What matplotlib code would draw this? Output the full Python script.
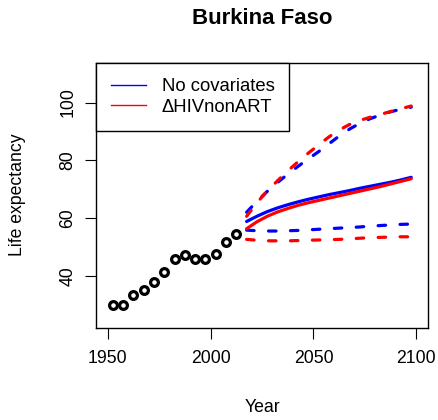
import matplotlib
matplotlib.use("Agg")
import matplotlib.pyplot as plt
from matplotlib.lines import Line2D

plt.rcParams['font.family'] = ['Liberation Sans', 'DejaVu Sans']
plt.rcParams['lines.scale_dashes'] = False

title = "Burkina Faso"
xlabel = "Year"
ylabel = "Life expectancy"
legend_labels = ["No covariates", "\u0394HIVnonART"]

obs_years = [1952.5, 1957.5, 1962.5, 1967.5, 1972.5, 1977.5, 1982.5, 1987.5,
             1992.5, 1997.5, 2002.5, 2007.5, 2012.5]
obs_e0 = [30.0, 30.0, 33.2, 35.0, 37.8, 41.3, 45.9, 47.1, 45.9, 45.9, 47.4, 51.7, 54.4]

proj_years = [2017.5, 2022.5, 2027.5, 2032.5, 2037.5, 2042.5, 2047.5, 2052.5, 2057.5,
              2062.5, 2067.5, 2072.5, 2077.5, 2082.5, 2087.5, 2092.5, 2097.5]

nocov_median = [58.8, 60.6, 62.2, 63.5, 64.6, 65.6, 66.5, 67.3, 68.1, 68.8, 69.5,
                70.3, 71.0, 71.7, 72.4, 73.2, 74.1]
nocov_upper = [62.0, 65.8, 69.2, 72.3, 75.2, 77.9, 80.5, 83.0, 85.7, 88.4, 90.8,
               92.8, 94.4, 95.7, 96.8, 97.7, 98.4]
nocov_lower = [55.8, 55.6, 55.5, 55.5, 55.6, 55.7, 55.9, 56.1, 56.3, 56.5, 56.7,
               56.9, 57.2, 57.4, 57.6, 57.8, 57.9]

hiv_median = [56.3, 58.7, 60.6, 62.1, 63.3, 64.4, 65.3, 66.1, 66.9, 67.7, 68.5,
              69.3, 70.1, 70.9, 71.8, 72.7, 73.6]
hiv_upper = [60.6, 65.3, 69.3, 72.9, 76.3, 79.5, 82.5, 85.3, 88.1, 90.5, 92.4,
             93.8, 94.9, 95.9, 96.9, 97.9, 98.8]
hiv_lower = [52.6, 52.3, 52.1, 52.1, 52.1, 52.2, 52.3, 52.4, 52.5, 52.6, 52.8,
             53.0, 53.2, 53.3, 53.4, 53.5, 53.5]

xticks = [1950, 2000, 2050, 2100]
yticks = [40, 60, 80, 100]

W, H = 439, 420
fig = plt.figure(figsize=(W / 100, H / 100), dpi=100)
ax = fig.add_axes([96 / W, 1 - 328 / H, (428.3 - 96) / W, (328 - 63.3) / H])

lw = 2.3
dash = (0, (5.4, 10.4))
for med, up, lo, col in [(nocov_median, nocov_upper, nocov_lower, '#0000FF'),
                         (hiv_median, hiv_upper, hiv_lower, '#FF0000')]:
    ax.plot(proj_years, med, color=col, lw=lw, solid_capstyle='round')
    ax.plot(proj_years, up, color=col, lw=lw, linestyle=dash, dash_capstyle='round')
    ax.plot(proj_years, lo, color=col, lw=lw, linestyle=dash, dash_capstyle='round')

ax.plot(obs_years, obs_e0, linestyle='none', marker='o', ms=5.6, mfc='white',
        mec='black', mew=2.3, zorder=5)

ax.set_xlim(1944.3, 2105.8)
ax.set_ylim(21.9, 113.6)
ax.set_xticks(xticks)
ax.set_yticks(yticks)
ax.set_xticklabels([str(t) for t in xticks], fontsize=12.7)
ax.set_yticklabels([str(t) for t in yticks], fontsize=12.7, rotation=90, va='center')
ax.tick_params(direction='out', length=8, width=0.8, pad=6)
ax.tick_params(axis='x', pad=8)
for s in ax.spines.values():
    s.set_linewidth(1.0)

fig.text(262 / W, 1 - 19 / H, title, ha='center', va='center', fontsize=16,
         fontweight='bold')
fig.text(262 / W, 1 - 408 / H, xlabel, ha='center', va='center', fontsize=12.7)
fig.text(18 / W, 1 - 195 / H, ylabel, ha='center', va='center', fontsize=12.7,
         rotation=90)

handles = [Line2D([], [], color='#0000FF', lw=1.0),
           Line2D([], [], color='#FF0000', lw=1.0)]
leg = ax.legend(handles, legend_labels, loc='upper left', borderaxespad=0,
                fancybox=False, edgecolor='black', framealpha=1, fontsize=13.3,
                handlelength=1.9, handletextpad=0.85, labelspacing=0.2,
                borderpad=0.8)
leg.get_frame().set_linewidth(1.0)

fig.savefig("out.png", dpi=100)
